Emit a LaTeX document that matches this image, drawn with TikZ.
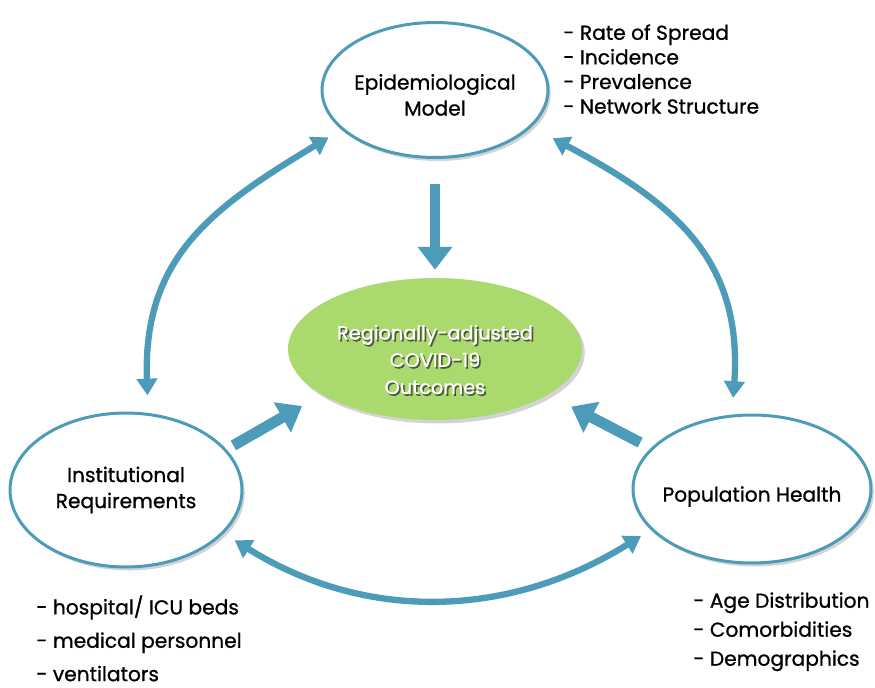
\documentclass[tikz,border=0pt]{standalone}
\usepackage{fontspec}
\setmainfont{Poppins}[FakeBold=0.9]
\usetikzlibrary{arrows.meta,shapes.geometric,shadows}
\definecolor{flowblue}{RGB}{76,156,185}
\definecolor{outgreen}{RGB}{170,217,110}
\begin{document}
\begin{tikzpicture}[x=0.02cm,y=0.02cm,
  topic/.style={ellipse, draw=flowblue, line width=1.7pt, fill=white, inner sep=0pt,
    drop shadow={shadow xshift=1.6pt, shadow yshift=-2pt, opacity=.35}},
  topictext/.style={align=center, inner sep=0pt, font=\fontsize{11.5}{14.8}\selectfont},
  result/.style={ellipse, fill=outgreen, inner sep=0pt,
    drop shadow={shadow xshift=1.6pt, shadow yshift=-2pt, opacity=.35}},
  resulttext/.style={align=center, inner sep=0pt, font=\fontsize{11}{15.5}\selectfont},
  flowthick/.style={draw=flowblue, line width=6.2pt, -{Triangle[length=13pt,width=19pt]}},
  flowcurve/.style={draw=flowblue, line width=3.6pt,
    {Triangle[length=9.5pt,width=11.5pt]}-{Triangle[length=9.5pt,width=11.5pt]}},
  factors/.style={align=left, anchor=north west, inner sep=0pt}
]
\useasboundingbox (0,0) rectangle (875,687);

% the four ellipses
\node[topic, minimum width=4.52cm, minimum height=2.70cm] (epi) at (435,597) {};
\node[result, minimum width=5.88cm, minimum height=2.84cm] (out) at (435,338) {};
\node[topic, minimum width=4.64cm, minimum height=3.08cm] (inst) at (126,197) {};
\node[topic, minimum width=4.76cm, minimum height=2.96cm] (pop) at (752,198) {};

% their captions
\node[topictext] (epitext) at (epi.center) [yshift=-2.8pt] {Epidemiological\\Model};
\node[topictext] (insttext) at (inst.center) {Institutional\\Requirements};
\node[topictext] (poptext) at (pop.center) [yshift=-4.3pt] {Population Health};

% white caption of the outcome ellipse, with a dark drop shadow
\node[resulttext, text=black!80, opacity=.75] (outshade) at ([xshift=0.9pt,yshift=-1pt]out.center)
  [yshift=-6pt] {Regionally-adjusted\\COVID-19\\Outcomes};
\node[resulttext, text=white] (outtext) at (out.center) [yshift=-6pt]
  {Regionally-adjusted\\COVID-19\\Outcomes};

% straight influence arrows into the outcome
\draw[flowthick, shorten <=14pt, shorten >=4.5pt] (epi.south) -- (out.north);
\draw[flowthick, shorten <=4.5pt, shorten >=13pt] (inst.22) -- (out.202.5);
\draw[flowthick, shorten <=6.8pt, shorten >=14.8pt] (pop.158.6) -- (out.338.6);

% curved two-way arrows between the factors
\draw[flowcurve, shorten <=10pt, shorten >=8.5pt]
  (inst.74) to[out=92, in=211, looseness=1.15] (epi.203.2);
\draw[flowcurve, shorten <=9.5pt, shorten >=13.6pt]
  (pop.105.7) to[out=86, in=-28, looseness=1.15] (epi.339);
\draw[flowcurve, shorten <=7.3pt, shorten >=6.5pt]
  (inst.336.7) to[out=-32, in=212] (pop.202.9);

% factor lists
\node[factors, font=\fontsize{11.5}{14}\selectfont] (epilist) at (563,663)
  {- Rate of Spread\\- Incidence\\- Prevalence\\- Network Structure};
\node[factors, font=\fontsize{11.5}{19}\selectfont] (instlist) at (36,92)
  {- hospital/ ICU beds\\- medical personnel\\- ventilators};
\node[factors, font=\fontsize{11.5}{16.5}\selectfont] (poplist) at (693,95)
  {- Age Distribution\\- Comorbidities\\- Demographics};
\end{tikzpicture}
\end{document}
